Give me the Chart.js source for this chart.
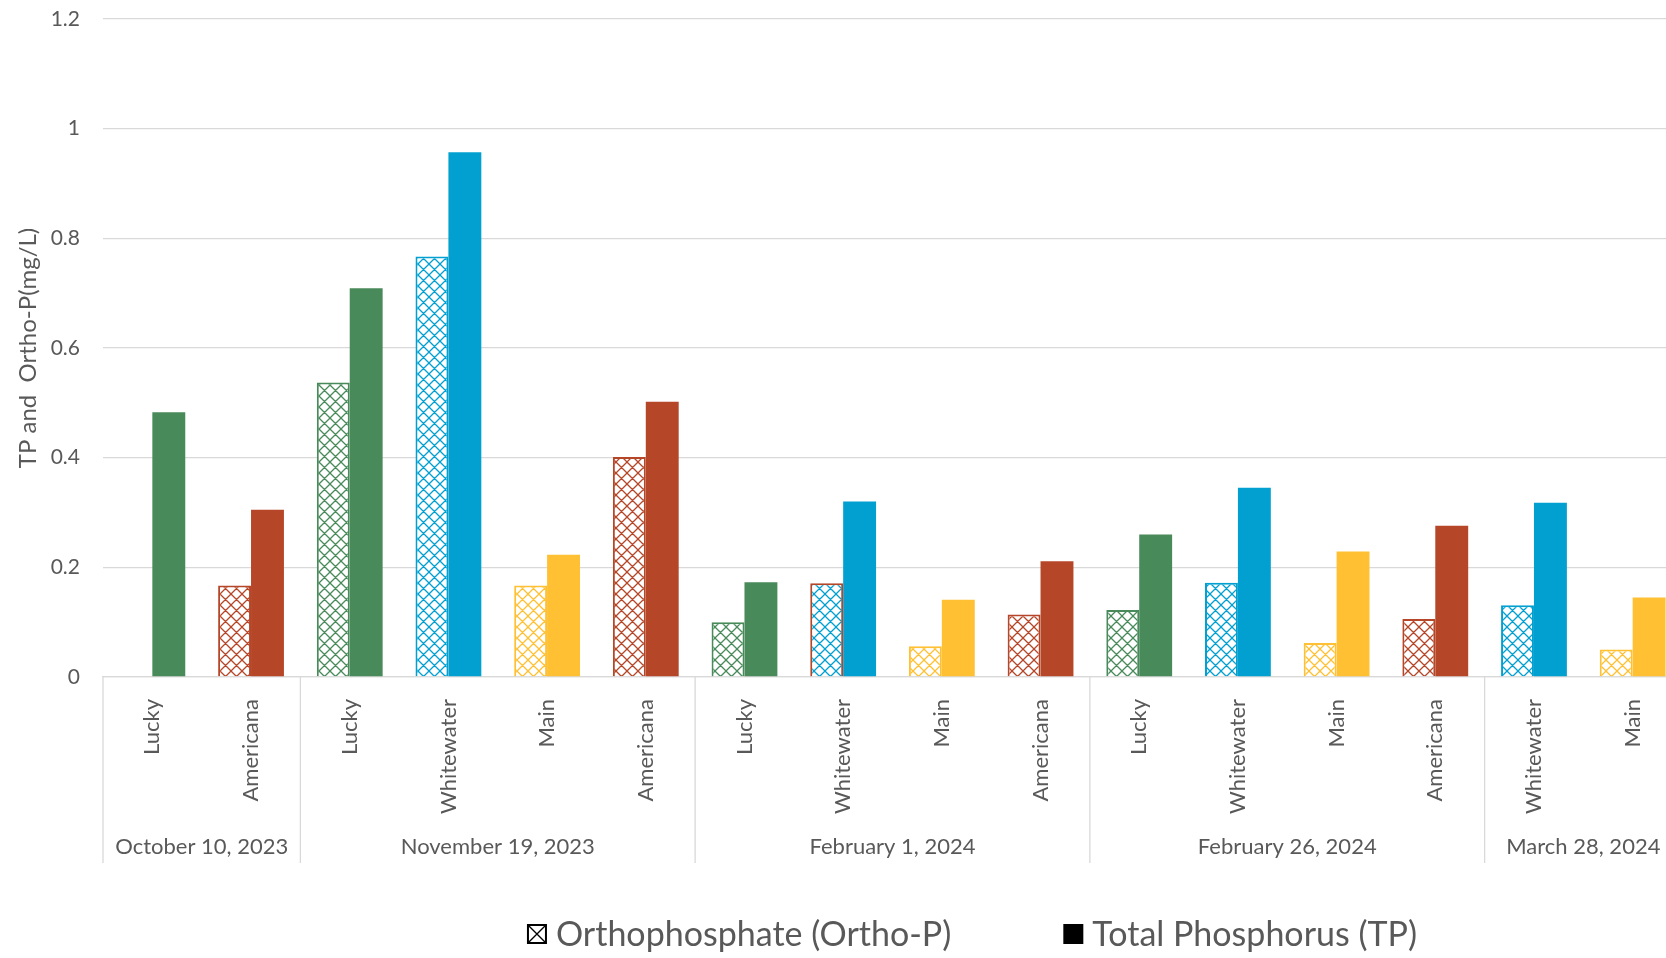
<!DOCTYPE html>
<html>
<head>
<meta charset="utf-8">
<title>TP and Ortho-P by site and sampling date</title>
<script src="https://cdn.jsdelivr.net/npm/chart.js@4.4.1/dist/chart.umd.min.js"></script>
<style>
  html, body { margin: 0; padding: 0; background: #ffffff; overflow: hidden; width: 1666px; height: 958px; }
  canvas { display: block; }
</style>
</head>
<body>
<canvas id="chart" width="1690" height="958"></canvas>
<script>
// Sampling dates and how many sites were sampled on each
const sampleDates = ["October 10, 2023", "November 19, 2023", "February 1, 2024", "February 26, 2024", "March 28, 2024"];
const sitesPerDate = [2, 4, 4, 4, 2];

// One category per site visit, in date order
const sites = [
  "Lucky", "Americana",
  "Lucky", "Whitewater", "Main", "Americana",
  "Lucky", "Whitewater", "Main", "Americana",
  "Lucky", "Whitewater", "Main", "Americana",
  "Whitewater", "Main"
];

// Concentrations in mg/L
const orthoP = [null, 0.167, 0.537, 0.767, 0.167, 0.401, 0.100, 0.171, 0.056, 0.114, 0.122, 0.172, 0.062, 0.106, 0.131, 0.050];
const totalP = [0.483, 0.305, 0.709, 0.957, 0.223, 0.502, 0.173, 0.320, 0.141, 0.211, 0.260, 0.345, 0.229, 0.276, 0.318, 0.145];

// Y axis range
const yMin = 0, yMax = 1.2, yStep = 0.2;

// Styling
const siteColors = { Lucky: "#488A59", Americana: "#B64628", Whitewater: "#02A0D1", Main: "#FFC133" };
const textColor = "#595959";
const lineColor = "#d9d9d9";
const bodyFont = "Lato";

const canvas = document.getElementById("chart");
const ctx = canvas.getContext("2d");

// Diamond cross-hatch used for the orthophosphate bars
function hatch(color, size = 11, lw = 1.3) {
  const tile = document.createElement("canvas");
  tile.width = tile.height = size;
  const g = tile.getContext("2d");
  g.fillStyle = "#ffffff";
  g.fillRect(0, 0, size, size);
  g.strokeStyle = color;
  g.lineWidth = lw;
  g.beginPath();
  for (const o of [-size, 0, size]) {
    g.moveTo(o, 0); g.lineTo(o + size, size);
    g.moveTo(o + size, 0); g.lineTo(o, size);
  }
  g.stroke();
  return ctx.createPattern(tile, "repeat");
}

const patterns = {};
for (const s in siteColors) patterns[s] = hatch(siteColors[s]);

const orthoFill = sites.map(s => patterns[s]);
const orthoBorder = sites.map(s => siteColors[s]);
orthoBorder[7] = siteColors.Americana;   // this bar carries a red outline
const tpFill = sites.map(s => siteColors[s]);

// Second-level category axis: date labels and group separators
const groupAxis = {
  id: "groupAxis",
  afterDraw(chart) {
    const { ctx, chartArea } = chart;
    const x = chart.scales.x;
    const step = x.getPixelForValue(1) - x.getPixelForValue(0);
    const top = chartArea.bottom;
    const bottom = chartArea.bottom + 186;
    ctx.save();
    ctx.strokeStyle = lineColor;
    ctx.lineWidth = 1.3;
    ctx.fillStyle = textColor;
    ctx.font = `22px ${bodyFont}`;
    ctx.textAlign = "center";
    ctx.textBaseline = "middle";
    let start = 0;
    sitesPerDate.forEach((n, i) => {
      const left = x.getPixelForValue(start) - step / 2;
      const right = x.getPixelForValue(start + n - 1) + step / 2;
      ctx.beginPath();
      ctx.moveTo(left, top); ctx.lineTo(left, bottom);
      if (i === sitesPerDate.length - 1) { ctx.moveTo(right, top); ctx.lineTo(right, bottom); }
      ctx.stroke();
      ctx.fillText(sampleDates[i], (left + right) / 2, chartArea.bottom + 170);
      start += n;
    });
    ctx.restore();
  }
};

// Legend drawn under the chart
const hatchLegend = {
  id: "hatchLegend",
  afterDraw(chart) {
    const { ctx } = chart;
    const labels = chart.data.datasets.map(d => d.label);
    const box = 20, gap = 9, itemGap = 112, cy = 934, centerX = 972;
    ctx.save();
    ctx.font = `34px ${bodyFont}`;
    ctx.textBaseline = "middle";
    ctx.fillStyle = textColor;
    const widths = labels.map(t => ctx.measureText(t).width);
    const total = widths.reduce((a, w) => a + box + gap + w, 0) + itemGap * (labels.length - 1);
    let xPos = centerX - total / 2;
    labels.forEach((t, i) => {
      const y0 = cy - box / 2;
      if (i === 0) {
        ctx.fillStyle = "#ffffff";
        ctx.fillRect(xPos, y0, box, box);
        ctx.strokeStyle = "#000000";
        ctx.lineWidth = 2;
        ctx.strokeRect(xPos + 1, y0 + 1, box - 2, box - 2);
        ctx.lineWidth = 1.3;
        ctx.beginPath();
        ctx.moveTo(xPos + 2, y0 + 2); ctx.lineTo(xPos + box - 2, y0 + box - 2);
        ctx.moveTo(xPos + box - 2, y0 + 2); ctx.lineTo(xPos + 2, y0 + box - 2);
        ctx.stroke();
      } else {
        ctx.fillStyle = "#000000";
        ctx.fillRect(xPos, y0, box, box);
      }
      ctx.fillStyle = textColor;
      ctx.fillText(t, xPos + box + gap, cy + 1);
      xPos += box + gap + widths[i] + itemGap;
    });
    ctx.restore();
  }
};

new Chart(ctx, {
  type: "bar",
  data: {
    labels: sites,
    datasets: [
      {
        label: "Orthophosphate (Ortho-P)",
        data: orthoP,
        backgroundColor: orthoFill,
        borderColor: orthoBorder,
        borderWidth: 2,
        borderSkipped: "start"
      },
      {
        label: "Total Phosphorus (TP)",
        data: totalP,
        backgroundColor: tpFill,
        borderWidth: 0
      }
    ]
  },
  options: {
    responsive: false,
    animation: false,
    devicePixelRatio: 1,
    layout: { padding: { top: 19, right: 8, left: 0, bottom: 0 } },
    datasets: { bar: { categoryPercentage: 0.667, barPercentage: 1 } },
    plugins: { legend: { display: false }, tooltip: { enabled: false } },
    scales: {
      x: {
        grid: { display: false, drawTicks: false },
        border: { display: true, color: lineColor, width: 1.3 },
        ticks: {
          minRotation: 90, maxRotation: 90, autoSkip: false, padding: 22,
          color: textColor, font: { family: bodyFont, size: 22 }
        },
        afterFit(scale) { scale.height = 281; }
      },
      y: {
        min: yMin, max: yMax,
        ticks: {
          stepSize: yStep, padding: 23, color: textColor, font: { family: bodyFont, size: 21 },
          callback: v => String(Math.round(v * 10) / 10)
        },
        grid: { color: lineColor, lineWidth: 1.3, drawTicks: false },
        border: { display: false },
        title: {
          display: true, text: "TP and  Ortho-P(mg/L)", color: textColor,
          font: { family: bodyFont, size: 24 }, padding: { top: 14, bottom: 0 }
        },
        afterFit(scale) { scale.width = 103; scale.paddingTop = 0; }
      }
    }
  },
  plugins: [groupAxis, hatchLegend]
});
</script>
</body>
</html>
